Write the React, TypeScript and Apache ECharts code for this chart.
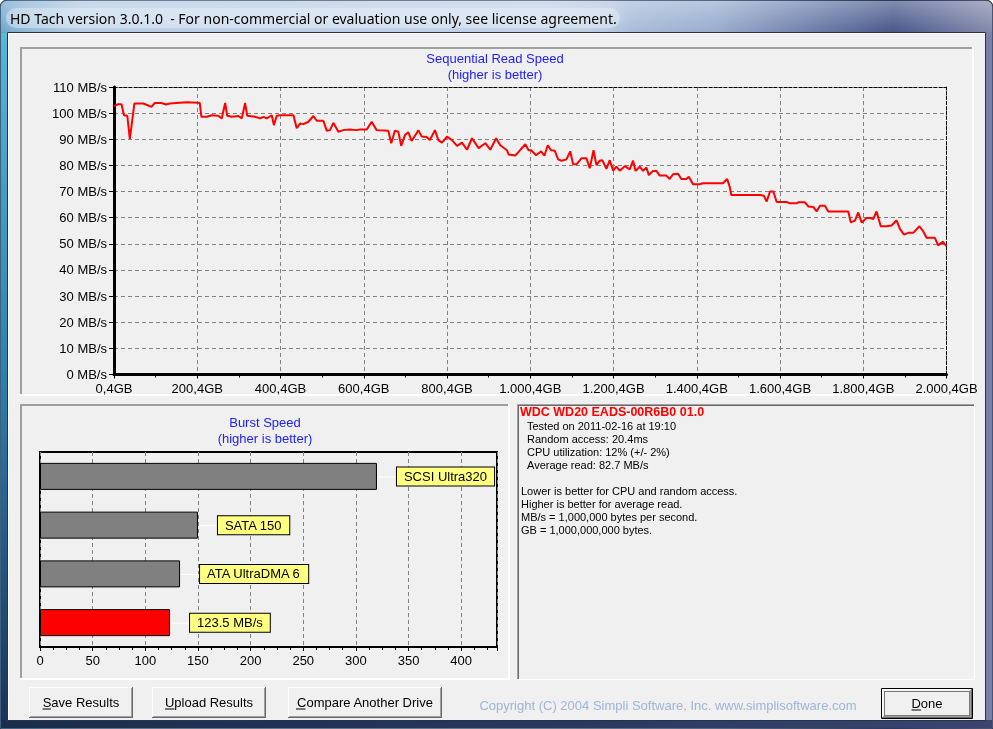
import React, { useEffect, useRef } from "react";
import * as echarts from "echarts";

// ---------- data ----------
const readPosGB = [
  0, 10, 18, 24, 32, 34, 38, 49, 70, 78, 90, 98, 114, 125, 134, 150, 175, 202, 206, 210,
  223, 235, 250, 259, 267, 272, 283, 299, 307, 315, 320, 339, 351, 359, 367, 379, 384, 391, 399, 431,
  439, 447, 455, 467, 479, 487, 503, 511, 519, 527, 539, 551, 567, 583, 591, 607, 619, 631, 659, 666,
  675, 683, 690, 699, 707, 715, 727, 731, 739, 751, 759, 771, 779, 788, 800, 812, 824, 836, 848, 860,
  876, 892, 904, 918, 928, 944, 948, 964, 972, 988, 996, 1002, 1014, 1026, 1034, 1042, 1050, 1059, 1067, 1075,
  1087, 1096, 1103, 1111, 1123, 1135, 1143, 1152, 1159, 1167, 1173, 1183, 1191, 1199, 1207, 1215, 1227, 1239, 1247, 1253,
  1263, 1271, 1279, 1285, 1295, 1303, 1311, 1327, 1335, 1343, 1355, 1363, 1375, 1381, 1391, 1407, 1415, 1463, 1473, 1479,
  1483, 1552, 1561, 1568, 1576, 1584, 1592, 1616, 1624, 1640, 1644, 1660, 1668, 1680, 1688, 1696, 1708, 1716, 1764, 1770,
  1780, 1788, 1796, 1808, 1816, 1824, 1832, 1842, 1856, 1868, 1880, 1888, 1898, 1908, 1920, 1935, 1944, 1952, 1972, 1980,
  1991, 2000,
];
const readSpeedMB = [
  102.7, 103.4, 103.4, 99.2, 99, 96, 90.1, 103.7, 103.7, 103.2, 102.4, 103.9, 103.9, 103.3, 103.7, 103.9, 104.2, 104, 103.9, 98.6,
  98.6, 99.2, 99, 98, 103.9, 99, 98.6, 98.9, 98, 103.9, 99, 98.6, 98, 98.6, 98, 99.2, 95.4, 99, 99.2, 99.2,
  94.2, 96, 95.8, 96.7, 98.9, 97.1, 97.1, 93.3, 93.5, 96.3, 92.9, 93.5, 93.7, 93.5, 93.7, 93.7, 96.7, 93.5, 93.3, 88.5,
  93.3, 92.9, 87.5, 91.6, 92.7, 89.4, 92.3, 93.5, 91.1, 90.9, 89.7, 93.5, 89.7, 88.7, 91, 89.7, 87.5, 88.7, 86, 90.4,
  86.6, 88.5, 86, 90.4, 87.7, 85.8, 84.2, 83.8, 85.2, 88.1, 85.8, 85.8, 83.9, 85.4, 83.7, 87.7, 85.8, 85.6, 82.3, 81.8,
  82.3, 85.4, 80.4, 80.4, 82.7, 82.7, 78.9, 85.8, 80.1, 81.8, 82, 78.7, 82, 78, 79.5, 78, 79.7, 78.5, 81.8, 77.9,
  79.5, 77.9, 79.2, 76.3, 77.9, 77.9, 76.1, 76.1, 74.8, 76.6, 76.8, 74.8, 74.8, 75.7, 72.8, 72.8, 73.2, 73.2, 74.8, 71.9,
  68.7, 68.7, 68.4, 66.2, 70, 70, 66, 66, 65.5, 65.5, 65.9, 65.9, 64.3, 64.1, 62.4, 64.6, 64.6, 62.4, 62.4, 58.2,
  58.9, 62, 58.2, 59.9, 59.9, 59.5, 62.4, 56.7, 56.7, 57, 59, 55.7, 53.5, 54.2, 54.2, 56.7, 54.8, 52.3, 52.3, 49.4,
  50.8, 49.1,
];

const burstCategories = ["SCSI Ultra320", "SATA 150", "ATA UltraDMA 6", "This drive"];
const burstValues = [320, 150, 133, 123.5];
const burstLabels = ["SCSI Ultra320", "SATA 150", "ATA UltraDMA 6", "123.5 MB/s"];
const barColors = ["#808080", "#808080", "#808080", "#ff0000"];

const windowTitle = "HD Tach version 3.0.1.0  - For non-commercial or evaluation use only, see license agreement.";
const driveName = "WDC WD20 EADS-00R6B0 01.0";
const driveStats = [
  "Tested on 2011-02-16 at 19:10",
  "Random access: 20.4ms",
  "CPU utilization: 12% (+/- 2%)",
  "Average read: 82.7 MB/s",
];
const driveNotes = [
  "Lower is better for CPU and random access.",
  "Higher is better for average read.",
  "MB/s = 1,000,000 bytes per second.",
  "GB = 1,000,000,000 bytes.",
];
const copyright = "Copyright (C) 2004 Simpli Software, Inc. www.simplisoftware.com";

// ---------- helpers ----------
const FONT = '"Liberation Sans", Arial, sans-serif';

function fmtGB(v: number) {
  const w = Math.round(v);
  const s = w >= 1000 ? Math.floor(w / 1000) + "." + String(w % 1000).padStart(3, "0") : String(w);
  return s + ",4GB";
}

function ln(x1: number, y1: number, x2: number, y2: number, stroke: string, lineWidth = 1, dash?: number[]) {
  return {
    type: "line",
    silent: true,
    z: 0,
    shape: { x1, y1, x2, y2 },
    style: { stroke, lineWidth, lineDash: dash },
  };
}

function txt(text: string, x: number, y: number, opts: any = {}) {
  const align = opts.align || "left";
  return {
    type: "text",
    silent: true,
    z: 1,
    style: {
      text,
      x,
      y,
      font: opts.font || `13px ${FONT}`,
      fill: opts.fill || "#000",
      align,
      verticalAlign: "middle",
      textAlign: align,
      textVerticalAlign: "middle",
      lineHeight: opts.lineHeight,
    },
  };
}

function sunken(x1: number, y1: number, x2: number, y2: number) {
  return [
    ln(x1, y1 + 1, x2, y1 + 1, "#a0a0a0", 2),
    ln(x1 + 1, y1, x1 + 1, y2, "#a0a0a0", 2),
    ln(x1, y2 - 1, x2, y2 - 1, "#ffffff", 2),
    ln(x2 - 1, y1, x2 - 1, y2, "#ffffff", 2),
  ];
}

function editBox(x1: number, y1: number, x2: number, y2: number) {
  return [
    ln(x1, y1 + 0.5, x2, y1 + 0.5, "#a0a0a0"),
    ln(x1 + 0.5, y1, x1 + 0.5, y2, "#a0a0a0"),
    ln(x1 + 1, y1 + 1.5, x2 - 1, y1 + 1.5, "#696969"),
    ln(x1 + 1.5, y1 + 1, x1 + 1.5, y2 - 1, "#696969"),
    ln(x1, y2 - 0.5, x2, y2 - 0.5, "#ffffff"),
    ln(x2 - 0.5, y1, x2 - 0.5, y2, "#ffffff"),
  ];
}

function button(x1: number, y1: number, x2: number, y2: number, label: string, ul: [number, number], isDefault = false) {
  const els: any[] = [
    { type: "rect", silent: true, z: 0, shape: { x: x1, y: y1, width: x2 - x1, height: y2 - y1 }, style: { fill: "#f0f0f0" } },
  ];
  let a = x1, b = y1, c = x2, d = y2;
  if (isDefault) {
    els.push({ type: "rect", silent: true, z: 0, shape: { x: x1 + 0.5, y: y1 + 0.5, width: x2 - x1 - 1, height: y2 - y1 - 1 }, style: { fill: "none", stroke: "#000", lineWidth: 1 } });
    a += 1; b += 1; c -= 1; d -= 1;
  }
  els.push(
    ln(a, b + 0.5, c, b + 0.5, "#ffffff"),
    ln(a + 0.5, b, a + 0.5, d, "#ffffff"),
    ln(a, d - 0.5, c, d - 0.5, "#696969"),
    ln(c - 0.5, b, c - 0.5, d, "#696969"),
    ln(a + 1, d - 1.5, c - 1, d - 1.5, "#a0a0a0"),
    ln(c - 1.5, b + 1, c - 1.5, d - 1, "#a0a0a0")
  );
  if (isDefault) {
    els.push({ type: "rect", silent: true, z: 0, shape: { x: x1 + 3.5, y: y1 + 3.5, width: x2 - x1 - 7, height: y2 - y1 - 7 }, style: { fill: "none", stroke: "#000", lineWidth: 1, lineDash: [1, 1] } });
  }
  const cy = (y1 + y2) / 2;
  els.push(txt(label, (x1 + x2) / 2, cy, { align: "center" }));
  els.push(ln(ul[0], cy + 6.5, ul[1], cy + 6.5, "#000"));
  return els;
}

function buildGraphic() {
  const g: any[] = [];
  // window frame background
  g.push({
    type: "rect", silent: true, z: 0,
    shape: { x: 0, y: 0, width: 993, height: 729, r: [7, 7, 0, 0] },
    style: {
      fill: new echarts.graphic.LinearGradient(0, 0, 1, 0, [
        { offset: 0, color: "#5f9cc6" },
        { offset: 0.08, color: "#a4bfdd" },
        { offset: 0.55, color: "#b3c8e2" },
        { offset: 0.72, color: "#93a8cc" },
        { offset: 0.9, color: "#3f4e84" },
        { offset: 1, color: "#7e84a8" },
      ]),
      stroke: "#1c2436", lineWidth: 1,
    },
  });
  // title sheen
  g.push({
    type: "rect", silent: true, z: 0,
    shape: { x: 1, y: 1, width: 991, height: 31, r: [6, 6, 0, 0] },
    style: {
      fill: new echarts.graphic.LinearGradient(0, 0, 0, 1, [
        { offset: 0, color: "rgba(255,255,255,0.35)" },
        { offset: 1, color: "rgba(255,255,255,0.05)" },
      ]),
    },
  });
  // left frame
  g.push({
    type: "rect", silent: true, z: 0, shape: { x: 1, y: 33, width: 7, height: 688 },
    style: {
      fill: new echarts.graphic.LinearGradient(0, 0, 0, 1, [
        { offset: 0, color: "#59b6d6" },
        { offset: 0.5, color: "#2f7fae" },
        { offset: 1, color: "#1a3458" },
      ]),
    },
  });
  // right frame
  g.push({ type: "rect", silent: true, z: 0, shape: { x: 985, y: 33, width: 7, height: 688 }, style: { fill: "#7b81a6" } });
  // bottom frame
  g.push({
    type: "rect", silent: true, z: 0, shape: { x: 1, y: 720, width: 991, height: 8 },
    style: {
      fill: new echarts.graphic.LinearGradient(0, 0, 1, 0, [
        { offset: 0, color: "#1a2d4c" },
        { offset: 0.5, color: "#25375a" },
        { offset: 1, color: "#3b4570" },
      ]),
    },
  });
  // text glow
  g.push({
    type: "rect", silent: true, z: 0,
    shape: { x: 6, y: 8, width: 614, height: 20, r: 10 },
    style: { fill: "rgba(235,242,250,0.4)", shadowBlur: 18, shadowColor: "rgba(255,255,255,0.95)" },
  });
  g.push(txt(windowTitle, 10, 18, { font: `14px "Noto Sans", "Open Sans", sans-serif`, fill: "#000" }));

  // client area
  g.push({
    type: "rect", silent: true, z: 0,
    shape: { x: 7.5, y: 32.5, width: 978, height: 688 },
    style: { fill: "#f0f0f0", stroke: "#28324a", lineWidth: 1 },
  });
  g.push(ln(8.5, 33, 8.5, 720, "#ffffff"));
  g.push(ln(8, 33.5, 985, 33.5, "#ffffff"));

  // panels
  g.push(...sunken(20, 47, 974, 396));
  g.push(...sunken(20, 404, 510, 680));
  g.push(...editBox(517, 404, 975, 680));

  // chart titles
  g.push(txt("Sequential Read Speed", 495, 58, { align: "center", fill: "#2020ff" }));
  g.push(txt("(higher is better)", 495, 74, { align: "center", fill: "#2020ff" }));
  g.push(txt("Burst Speed", 265, 422, { align: "center", fill: "#2020ff" }));
  g.push(txt("(higher is better)", 265, 438, { align: "center", fill: "#2020ff" }));

  // info panel
  g.push(txt(driveName, 520, 412, { font: `bold 12.5px ${FONT}`, fill: "#ff0000" }));
  driveStats.forEach((s, i) => g.push(txt(s, 527, 425.5 + i * 13, { font: `11px ${FONT}` })));
  driveNotes.forEach((s, i) => g.push(txt(s, 521, 491 + i * 13, { font: `11px ${FONT}` })));

  // buttons
  g.push(...button(29, 687, 133, 718, "Save Results", [42.5, 51]));
  g.push(...button(152, 687, 266, 718, "Upload Results", [165, 174.5]));
  g.push(...button(288, 687, 442, 718, "Compare Another Drive", [296, 305.5]));
  g.push(...button(881, 688, 973, 719, "Done", [911.5, 921], true));

  g.push(txt(copyright, 668, 705, { align: "center", font: `13px ${FONT}`, fill: "#9db5d8" }));
  return g;
}

const dashedGrid = { show: true, lineStyle: { color: "#808080", width: 1, type: [4, 3] } };
const labelStyle = { color: "#000", fontFamily: FONT, fontSize: 13 };

function buildOption() {
  const lineData = readPosGB.map((x, i) => [x, readSpeedMB[i]]);
  return {
    animation: false,
    backgroundColor: "transparent",
    graphic: { elements: buildGraphic() },
    grid: [
      { left: 114, right: 46.5, top: 87, bottom: 354.5, z: 3 },
      { left: 40, right: 496, top: 452, bottom: 82, show: true, borderColor: "#000", borderWidth: 2, z: 3 },
    ],
    xAxis: [
      {
        gridIndex: 0, type: "value", min: 0, max: 2000, interval: 200, z: 4,
        axisLine: { show: true, onZero: false, lineStyle: { color: "#000", width: 3 } },
        axisTick: { show: true, length: 4, lineStyle: { color: "#000" } },
        minorTick: { show: true, splitNumber: 2, length: 3, lineStyle: { color: "#000" } },
        axisLabel: { ...labelStyle, margin: 7, formatter: fmtGB },
        splitLine: dashedGrid,
      },
      {
        gridIndex: 0, type: "value", position: "top", min: 0, max: 2000, z: 4,
        axisLine: { show: true, onZero: false, lineStyle: { color: "#000", width: 1, type: [3, 2] } },
        axisTick: { show: false }, axisLabel: { show: false }, splitLine: { show: false },
      },
      {
        gridIndex: 1, type: "value", min: 0, max: 434, interval: 50, z: 4,
        axisLine: { show: true, onZero: false, lineStyle: { color: "#000", width: 2 } },
        axisTick: { show: true, length: 4, lineStyle: { color: "#000" } },
        minorTick: { show: true, splitNumber: 4, length: 3, lineStyle: { color: "#000" } },
        axisLabel: { ...labelStyle, margin: 7, showMaxLabel: false },
        splitLine: dashedGrid,
      },
    ],
    yAxis: [
      {
        gridIndex: 0, type: "value", min: 0, max: 110, interval: 10, z: 4,
        axisLine: { show: true, onZero: false, lineStyle: { color: "#000", width: 3 } },
        axisTick: { show: true, length: 5, lineStyle: { color: "#000" } },
        axisLabel: { ...labelStyle, margin: 7, formatter: "{value} MB/s" },
        splitLine: dashedGrid,
      },
      {
        gridIndex: 0, type: "value", position: "right", min: 0, max: 110, z: 4,
        axisLine: { show: true, onZero: false, lineStyle: { color: "#000", width: 1, type: [3, 2] } },
        axisTick: { show: false }, axisLabel: { show: false }, splitLine: { show: false },
      },
      {
        gridIndex: 1, type: "category", data: burstCategories, inverse: true, z: 4,
        axisLine: { show: false }, axisTick: { show: false }, axisLabel: { show: false }, splitLine: { show: false },
      },
    ],
    series: [
      {
        type: "line", xAxisIndex: 0, yAxisIndex: 0, data: lineData, z: 6,
        symbol: "none", showSymbol: false,
        lineStyle: { color: "#ff0000", width: 2 },
      },
      {
        type: "bar", xAxisIndex: 2, yAxisIndex: 2, barWidth: 27, z: 6,
        data: burstValues.map((v, i) => ({ value: v, itemStyle: { color: barColors[i] } })),
        itemStyle: { borderColor: "#000", borderWidth: 1 },
      },
      {
        type: "custom", xAxisIndex: 2, yAxisIndex: 2, z: 7, clip: false,
        data: burstValues.map((v, i) => [v, i]),
        renderItem: (params: any, api: any) => {
          const p = api.coord([api.value(0), api.value(1)]);
          return {
            type: "group",
            children: [
              { type: "line", shape: { x1: p[0] + 1, y1: p[1] + 0.5, x2: p[0] + 20, y2: p[1] + 0.5 }, style: { stroke: "#ffffff", lineWidth: 1 } },
              {
                type: "text",
                style: {
                  text: burstLabels[params.dataIndex],
                  x: p[0] + 20, y: p[1],
                  align: "left", verticalAlign: "middle",
                  textAlign: "left", textVerticalAlign: "middle",
                  font: `13px ${FONT}`, fill: "#000",
                  backgroundColor: "#ffff80", borderColor: "#000", borderWidth: 1,
                  padding: [3, 7, 2, 7],
                },
              },
            ],
          };
        },
      },
    ],
  };
}

export default function App() {
  const ref = useRef<HTMLDivElement>(null);
  useEffect(() => {
    const chart = echarts.init(ref.current as HTMLDivElement, null, { renderer: "svg" });
    chart.setOption(buildOption() as any);
    return () => chart.dispose();
  }, []);
  return <div ref={ref} style={{ position: "fixed", left: 0, top: 0, width: 993, height: 729 }} />;
}
